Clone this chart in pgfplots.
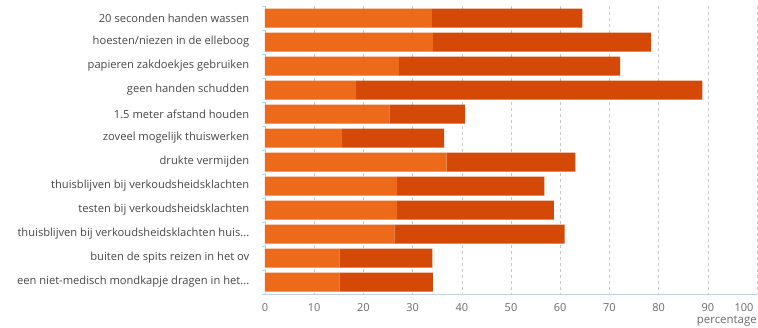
\documentclass[border=0pt]{standalone}
\usepackage{pgfplots}
\pgfplotsset{compat=1.18}
\usepackage{fontspec}
\setmainfont{Open Sans}
\definecolor{lightor}{RGB}{237,106,26}
\definecolor{darkor}{RGB}{212,73,8}
\definecolor{txt}{RGB}{70,70,70}
\definecolor{tk}{RGB}{105,105,105}
\definecolor{axl}{RGB}{190,210,225}
\begin{document}
\begin{tikzpicture}
\useasboundingbox (-265bp,-34bp) rectangle (493bp,294bp);
\begin{axis}[
  at={(0,0)}, anchor=south west,
  scale only axis, width=492bp, height=288bp,
  xbar stacked, bar width=19bp,
  xmin=0, xmax=100, ymin=-0.5, ymax=11.5,
  y dir=reverse,
  xtick={0,10,20,30,40,50,60,70,80,90},
  extra x ticks={100},
  extra x tick style={grid=major, tick label style={anchor=north east, xshift=0bp}},
  ytick={0,1,2,3,4,5,6,7,8,9,10,11},
  yticklabels={{20 seconden handen wassen},{hoesten/niezen in de elleboog},{papieren zakdoekjes gebruiken},{geen handen schudden},{1.5 meter afstand houden},{zoveel mogelijk thuiswerken},{drukte vermijden},{thuisblijven bij verkoudsheidsklachten},{testen bij verkoudsheidsklachten},{thuisblijven bij verkoudsheidsklachten huis{.}{.}{.}},{buiten de spits reizen in het ov},{een niet-medisch mondkapje dragen in het{.}{.}{.}}},
  minor ytick={-0.5,0.5,1.5,2.5,3.5,4.5,5.5,6.5,7.5,8.5,9.5,10.5,11.5},
  major y tick style={draw=none},
  minor y tick style={draw=axl, line width=0.6pt},
  tick align=outside, minor tick length=3bp,
  axis x line*=bottom, axis y line*=left,
  y axis line style={draw=none},
  x axis line style={draw=axl, line width=0.8pt, -},
  major x tick style={draw=none},
  xmajorgrids, grid style={dashed, draw=gray!45, line width=0.5pt},
  yticklabel style={font=\fontsize{11.2}{12}\selectfont, text=txt, xshift=-8bp},
  xticklabel style={font=\fontsize{11}{12}\selectfont, text=tk, yshift=-2bp},
  /pgf/number format/assume math mode=true,
  xlabel={percentage},
  xlabel style={at={(rel axis cs:1,0)}, anchor=north east, yshift=-22bp, xshift=0bp, font=\fontsize{11.5}{12}\selectfont, text=tk, inner sep=0pt},
  every axis plot/.append style={draw=none},
]
\addplot[fill=lightor] coordinates {(33.9,0) (34.1,1) (27.2,2) (18.5,3) (25.3,4) (15.7,5) (36.9,6) (26.8,7) (26.8,8) (26.3,9) (15.1,10) (15.1,11)};
\addplot[fill=darkor] coordinates {(30.6,0) (44.4,1) (45.0,2) (70.4,3) (15.4,4) (20.7,5) (26.2,6) (30.0,7) (31.9,8) (34.6,9) (18.9,10) (19.0,11)};
\end{axis}
\end{tikzpicture}
\end{document}
